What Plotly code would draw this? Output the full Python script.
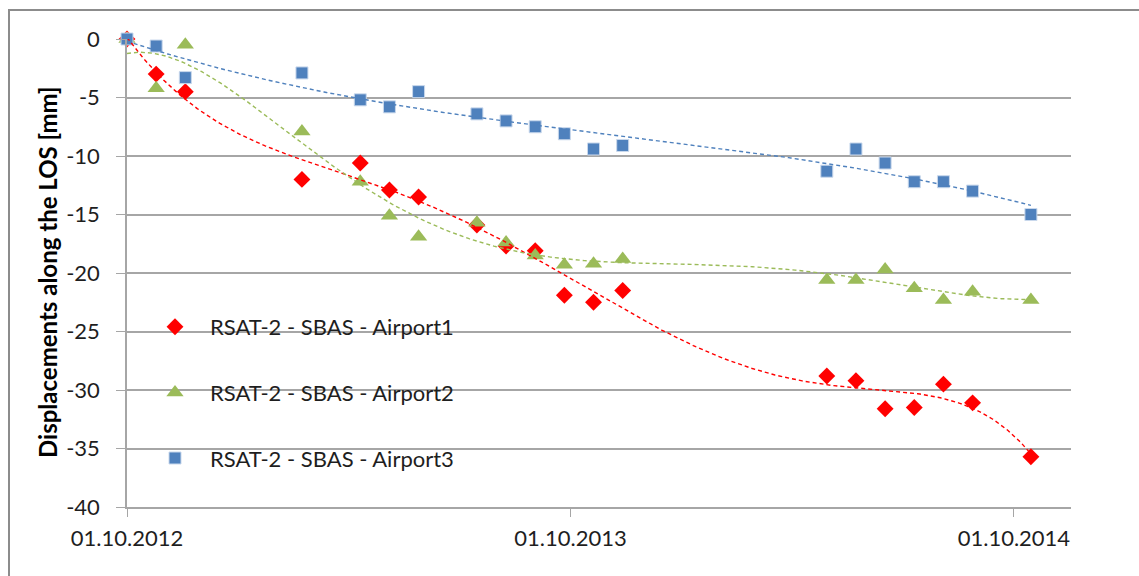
import numpy as np
import pandas as pd
import plotly.graph_objects as go

# Acquisition dates (24-day repeat cycle)
dates = [
    "2012-10-01", "2012-10-25", "2012-11-18", "2013-02-22", "2013-04-11",
    "2013-05-05", "2013-05-29", "2013-07-16", "2013-08-09", "2013-09-02",
    "2013-09-26", "2013-10-20", "2013-11-13", "2014-04-30", "2014-05-24",
    "2014-06-17", "2014-07-11", "2014-08-04", "2014-08-28", "2014-10-15",
]

# LOS displacements [mm]
airport1 = [0.0, -3.0, -4.5, -12.0, -10.6, -12.9, -13.5, -15.9, -17.7, -18.1,
            -21.9, -22.5, -21.5, -28.8, -29.2, -31.6, -31.5, -29.5, -31.1, -35.7]
airport2 = [0.0, -4.2, -0.5, -7.9, -12.2, -15.1, -16.9, -15.7, -17.4, -18.5,
            -19.3, -19.2, -18.8, -20.6, -20.6, -19.7, -21.3, -22.3, -21.6, -22.3]
airport3 = [0.0, -0.6, -3.3, -2.9, -5.2, -5.8, -4.5, -6.4, -7.0, -7.5,
            -8.1, -9.4, -9.1, -11.3, -9.4, -10.6, -12.2, -12.2, -13.0, -15.0]

series_names = ["RSAT-2 - SBAS - Airport1", "RSAT-2 - SBAS - Airport2", "RSAT-2 - SBAS - Airport3"]
series_colors = ["#FF0000", "#9BBB59", "#4F81BD"]
series_symbols = ["diamond", "triangle-up", "square"]
series_sizes = [13, 15, 12]
trend_orders = [6, 6, 3]

tick_dates = ["2012-10-01", "2013-10-01", "2014-10-01"]
tick_text = ["01.10.2012", "01.10.2013", "01.10.2014"]
y_ticks = list(range(-40, 1, 5))
y_tick_text = [str(v) for v in y_ticks]

x_range = ["2012-10-01", "2014-11-17"]

FONT = "Lato"
TEXT_COLOR = "#1e1e1e"
GRID = "#a6a6a6"

t_dates = pd.to_datetime(dates)
origin = t_dates[0]
t_days = np.asarray((t_dates - origin).days, dtype=float)

fig = go.Figure()

values = [airport1, airport2, airport3]
for i, (name, vals) in enumerate(zip(series_names, values)):
    fig.add_trace(go.Scatter(
        x=t_dates, y=vals, mode="markers", name=name,
        legendgroup=f"g{i}",
        cliponaxis=False,
        marker=dict(symbol=series_symbols[i], size=series_sizes[i],
                    color=series_colors[i],
                    line=dict(width=1 if series_symbols[i] == "square" else 0,
                              color="#c9d8ec")),
    ))

# Polynomial trendlines
for i, vals in enumerate(values):
    poly = np.polynomial.Polynomial.fit(t_days, np.asarray(vals, dtype=float), trend_orders[i])
    dd = np.linspace(t_days.min(), t_days.max(), 400)
    fig.add_trace(go.Scatter(
        x=origin + pd.to_timedelta(dd, unit="D"), y=poly(dd),
        mode="lines", showlegend=False, hoverinfo="skip",
        line=dict(color=series_colors[i], width=1.4, dash="4px,3px"),
    ))

W, H = 1139, 576
L, R, T, B = 127, 68, 39, 69
pw, ph = W - L - R, H - T - B

def px_x(p):
    return (p - L) / pw

def px_y(p):
    return (H - B - p) / ph

fig.update_layout(
    width=W, height=H,
    margin=dict(l=L, r=R, t=T, b=B, autoexpand=False),
    paper_bgcolor="white", plot_bgcolor="white",
    font=dict(family=FONT, size=22, color=TEXT_COLOR),
    showlegend=True,
    legend=dict(
        x=px_x(140), y=px_y(306), xanchor="left", yanchor="top",
        bgcolor="rgba(0,0,0,0)", borderwidth=0,
        font=dict(family=FONT, size=22, color=TEXT_COLOR),
        itemwidth=60, tracegroupgap=34,
    ),
    xaxis=dict(
        type="date", range=x_range,
        tickvals=tick_dates, ticktext=tick_text,
        showgrid=False, zeroline=False,
        showline=True, linecolor=GRID, linewidth=1.5,
        ticks="outside", ticklen=8, tickcolor=GRID, tickwidth=1,
        ticklabelstandoff=3,
        tickfont=dict(family=FONT, size=22, color=TEXT_COLOR),
    ),
    yaxis=dict(
        range=[-40, 0], tickvals=y_ticks, ticktext=y_tick_text,
        showgrid=True, gridcolor=GRID, gridwidth=1.5,
        zeroline=False,
        showline=True, linecolor=GRID, linewidth=1.5,
        ticks="outside", ticklen=9, tickcolor=GRID, tickwidth=1,
        ticklabelstandoff=12,
        tickfont=dict(family=FONT, size=22, color=TEXT_COLOR),
    ),
    annotations=[dict(
        text="<b>Displacements along the LOS [mm]</b>",
        xref="paper", yref="paper", x=px_x(47), y=px_y(272),
        xanchor="center", yanchor="middle", textangle=-90, showarrow=False,
        font=dict(family=FONT, size=24, color="#000000"),
    )],
    shapes=[dict(
        type="rect", xref="paper", yref="paper", layer="below",
        x0=px_x(9), x1=px_x(1160), y0=px_y(600), y1=px_y(10),
        line=dict(color="#8c8c8c", width=2), fillcolor="rgba(0,0,0,0)",
    )],
)

fig.write_html("out.html")
